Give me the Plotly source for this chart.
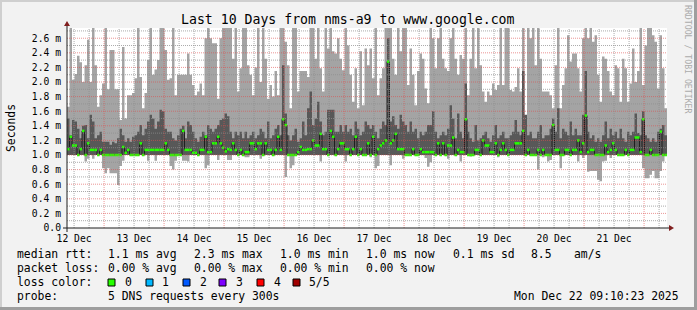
import plotly.graph_objects as go
from datetime import datetime, timedelta

# ---------------- data (milliseconds, hourly steps) ----------------
START = datetime(2025, 12, 12, 9, 10, 23)
END_LABEL = "Mon Dec 22 09:10:23 2025"
HOURS = 240
Y_TOP = 2.74

max_rtt = [
    1.66, 2.8, 2.03, 2.11, 2.36, 2.27, 2.0, 2.23, 2.58, 2.0, 2.8, 2.23, 1.66, 1.82, 1.98, 2.8, 1.9, 2.44, 2.44, 1.9, 1.9, 1.48, 2.48, 1.5,
    1.82, 1.82, 1.85, 2.05, 2.8, 2.07, 1.64, 1.85, 2.3, 2.8, 2.1, 2.17, 2.3, 2.8, 2.8, 2.44, 2.03, 2.05, 2.8, 1.82, 2.1, 2.1, 2.1, 2.1,
    2.39, 2.1, 1.96, 1.82, 1.87, 1.98, 1.82, 2.6, 2.8, 2.6, 2.53, 2.53, 1.77, 2.6, 2.8, 2.8, 2.8, 2.8, 2.32, 2.8, 1.87, 2.19, 2.8, 2.8,
    2.23, 2.1, 1.82, 2.2, 2.8, 2.0, 2.8, 2.32, 1.77, 1.96, 1.8, 2.15, 1.82, 2.8, 2.8, 2.55, 2.23, 1.64, 2.8, 2.8, 1.87, 2.15, 2.15, 2.15,
    2.07, 2.8, 2.8, 2.32, 2.8, 2.19, 1.87, 2.8, 2.46, 2.8, 2.42, 2.39, 2.6, 2.32, 2.16, 2.8, 2.5, 2.1, 1.73, 2.19, 1.64, 2.42, 1.68, 2.46,
    2.23, 2.46, 2.05, 2.8, 1.82, 2.05, 2.19, 2.8, 2.8, 2.8, 2.32, 2.1, 2.8, 2.42, 2.8, 2.8, 1.96, 2.46, 2.1, 1.68, 2.15, 2.39, 2.32, 1.91,
    1.71, 2.8, 2.6, 2.19, 2.6, 2.8, 2.32, 2.19, 2.15, 2.6, 2.8, 2.32, 2.1, 2.37, 2.32, 2.8, 1.82, 2.32, 2.8, 2.19, 2.8, 2.23, 1.87, 1.73,
    1.87, 1.82, 1.98, 1.89, 1.96, 2.8, 1.96, 2.8, 2.8, 1.89, 1.87, 1.93, 2.19, 1.87, 2.8, 1.5, 2.8, 2.6, 2.8, 2.23, 2.8, 2.32, 1.87, 1.87,
    1.87, 1.82, 1.64, 2.23, 2.8, 1.64, 1.96, 2.19, 2.64, 2.28, 2.39, 2.39, 2.19, 1.87, 2.6, 2.8, 2.6, 2.8, 2.55, 2.64, 2.1, 1.73, 2.35, 2.32,
    2.15, 1.87, 1.82, 2.23, 2.19, 1.73, 2.32, 2.19, 1.73, 1.98, 2.46, 2.0, 2.15, 2.8, 1.96, 2.5, 2.8, 2.8, 2.64, 2.55, 1.91, 2.64, 2.19, 1.64,
]

upper_rtt = [
    1.5, 1.27, 1.48, 1.46, 1.36, 1.23, 1.4, 1.41, 1.23, 1.55, 1.46, 1.23, 1.27, 1.32, 1.18, 1.18, 1.18, 1.14, 1.18, 1.16, 1.23, 1.36, 1.27, 1.18,
    1.23, 1.18, 1.25, 1.27, 1.32, 1.41, 1.27, 1.36, 1.46, 1.55, 1.5, 1.36, 1.46, 1.62, 1.6, 1.36, 1.32, 1.32, 1.23, 1.2, 1.27, 1.36, 1.4, 1.23,
    1.46, 1.41, 1.32, 1.23, 1.18, 1.25, 1.32, 1.27, 1.41, 1.36, 1.32, 1.36, 1.41, 1.48, 1.5, 1.57, 1.53, 1.32, 1.23, 1.32, 1.27, 1.32, 1.23, 1.32,
    1.23, 1.27, 1.32, 1.23, 1.27, 1.36, 1.32, 1.23, 1.46, 1.23, 1.27, 1.36, 1.41, 1.27, 2.23, 1.57, 1.27, 1.2, 1.27, 1.36, 1.18, 1.23, 1.46, 1.27,
    1.64, 1.87, 1.41, 1.5, 1.73, 1.46, 1.27, 1.32, 1.62, 1.62, 1.62, 1.32, 1.32, 1.41, 1.32, 1.41, 1.32, 1.36, 1.27, 1.46, 1.36, 1.27, 1.32, 1.46,
    1.41, 1.36, 1.41, 1.32, 1.23, 1.36, 1.46, 1.41, 2.6, 1.46, 1.53, 1.41, 1.36, 1.55, 1.46, 1.41, 1.32, 1.46, 1.32, 1.36, 1.23, 1.32, 1.27, 1.32,
    1.41, 1.41, 1.6, 1.32, 1.23, 1.27, 1.32, 1.27, 1.36, 1.68, 1.5, 1.23, 1.57, 1.32, 1.23, 1.98, 1.32, 1.23, 1.18, 1.41, 1.2, 1.23, 1.27, 1.32,
    1.23, 1.18, 1.27, 1.41, 1.23, 1.27, 1.32, 1.23, 1.23, 1.27, 1.32, 1.48, 1.32, 1.27, 2.15, 1.55, 1.27, 1.32, 1.23, 1.23, 1.32, 1.41, 1.23, 1.27,
    1.27, 1.36, 1.5, 1.32, 1.64, 1.23, 1.36, 1.32, 1.27, 1.46, 1.27, 1.36, 1.27, 1.27, 1.55, 2.15, 1.32, 1.23, 1.27, 1.18, 1.23, 1.18, 1.27, 1.46,
    1.23, 1.36, 1.27, 1.32, 1.23, 1.36, 1.23, 1.18, 1.32, 1.27, 1.32, 1.57, 1.3, 1.27, 1.6, 1.27, 1.23, 1.18, 1.23, 1.18, 1.32, 1.36, 1.41, 1.27,
]

lower_rtt = [
    1.0, 1.0, 1.0, 1.0, 1.0, 1.0, 1.0, 1.0, 1.0, 1.0, 1.0, 1.0, 1.0, 1.0, 1.0, 1.0, 1.0, 1.0, 1.0, 1.0, 1.0, 1.0, 1.0, 1.0,
    1.0, 1.0, 1.0, 1.0, 1.0, 1.0, 1.0, 1.0, 1.0, 1.0, 1.0, 1.0, 1.0, 1.0, 1.0, 1.0, 1.0, 1.0, 1.0, 1.0, 1.0, 1.0, 1.0, 1.0,
    1.0, 1.0, 1.0, 1.0, 1.0, 1.0, 1.0, 1.0, 1.0, 1.0, 1.0, 1.0, 1.0, 1.0, 1.0, 1.0, 1.0, 1.0, 1.0, 1.0, 1.0, 1.0, 1.0, 1.0,
    1.0, 1.0, 1.0, 1.0, 1.0, 1.0, 1.0, 1.0, 1.0, 1.0, 1.0, 1.0, 1.0, 1.0, 1.0, 1.0, 1.0, 1.0, 1.0, 1.0, 1.0, 1.0, 1.0, 1.0,
    1.0, 1.0, 1.0, 1.0, 1.0, 1.0, 1.0, 1.0, 1.0, 1.0, 1.0, 1.0, 1.0, 1.0, 1.0, 1.0, 1.0, 1.0, 1.0, 1.0, 1.0, 1.0, 1.0, 1.0,
    1.0, 1.0, 1.0, 1.0, 1.0, 1.0, 1.0, 1.0, 1.0, 1.0, 1.0, 1.0, 1.0, 1.0, 1.0, 1.0, 1.0, 1.0, 1.0, 1.0, 1.0, 1.0, 1.0, 1.0,
    1.0, 1.0, 1.0, 1.0, 1.0, 1.0, 1.0, 1.0, 1.0, 1.0, 1.0, 1.0, 1.0, 1.0, 1.0, 1.0, 1.0, 1.0, 1.0, 1.0, 1.0, 1.0, 1.0, 1.0,
    1.0, 1.0, 1.0, 1.0, 1.0, 1.0, 1.0, 1.0, 1.0, 1.0, 1.0, 1.0, 1.0, 1.0, 1.0, 1.0, 1.0, 1.0, 1.0, 1.0, 1.0, 1.0, 1.0, 1.0,
    1.0, 1.0, 1.0, 1.0, 1.0, 1.0, 1.0, 1.0, 1.0, 1.0, 1.0, 1.0, 1.0, 1.0, 1.0, 1.0, 1.0, 1.0, 1.0, 1.0, 1.0, 1.0, 1.0, 1.0,
    1.0, 1.0, 1.0, 1.0, 1.0, 1.0, 1.0, 1.0, 1.0, 1.0, 1.0, 1.0, 1.0, 1.0, 1.0, 1.0, 1.0, 1.0, 1.0, 1.0, 1.0, 1.0, 1.0, 1.0,
]

min_rtt = [
    1.0, 1.0, 1.0, 1.0, 1.0, 1.0, 1.0, 0.91, 0.95, 1.0, 0.95, 1.0, 1.0, 1.0, 0.82, 0.75, 0.82, 0.75, 0.75, 0.75, 0.59, 0.85, 0.92, 1.0,
    1.0, 1.0, 1.0, 1.0, 1.0, 1.0, 1.0, 1.0, 0.92, 1.0, 1.0, 0.92, 1.0, 1.0, 1.0, 1.0, 1.0, 0.85, 0.8, 0.92, 1.0, 1.0, 0.92, 0.92,
    0.91, 1.0, 1.0, 1.0, 1.0, 1.0, 1.0, 0.82, 0.86, 1.0, 1.0, 1.0, 0.93, 1.0, 1.0, 1.0, 0.93, 0.93, 1.0, 1.0, 1.0, 1.0, 1.0, 0.97,
    0.97, 1.0, 1.0, 1.0, 1.0, 0.95, 1.0, 1.0, 1.0, 1.0, 1.0, 1.0, 1.0, 1.0, 1.0, 0.7, 1.0, 0.82, 0.86, 1.0, 1.0, 1.0, 1.0, 1.0,
    1.0, 1.0, 1.0, 1.0, 1.0, 0.91, 1.0, 1.0, 1.0, 1.0, 1.0, 1.0, 1.0, 1.0, 1.0, 0.91, 1.0, 1.0, 1.0, 1.0, 1.0, 1.0, 1.0, 1.0,
    1.0, 0.97, 1.0, 0.82, 0.85, 1.0, 1.0, 1.0, 1.0, 0.86, 1.0, 1.0, 1.0, 1.0, 0.95, 1.0, 1.0, 1.0, 1.0, 1.0, 1.0, 1.0, 1.0, 0.96,
    0.84, 0.9, 1.0, 1.0, 1.0, 1.0, 1.0, 1.0, 0.95, 1.0, 1.0, 1.0, 1.0, 0.91, 1.0, 1.0, 1.0, 0.98, 1.0, 1.0, 1.0, 1.0, 1.0, 1.0,
    1.0, 1.0, 1.0, 1.0, 0.97, 1.0, 1.0, 1.0, 1.0, 1.0, 1.0, 1.0, 1.0, 1.0, 1.0, 1.0, 1.0, 1.0, 1.0, 1.0, 0.8, 1.0, 0.97, 1.0,
    0.91, 0.93, 1.0, 1.0, 1.0, 0.82, 1.0, 1.0, 1.0, 1.0, 1.0, 1.0, 0.91, 1.0, 0.96, 1.0, 0.77, 0.78, 0.78, 0.78, 0.66, 0.64, 0.91, 0.92,
    1.0, 0.96, 1.0, 1.0, 1.0, 1.0, 1.0, 1.0, 1.0, 1.0, 1.0, 1.0, 1.0, 1.0, 0.82, 0.68, 0.68, 0.73, 0.78, 0.68, 0.68, 0.78, 0.91, 1.0,
]

median_rtt = [
    1.08, 1.25, 1.13, 1.13, 1.0, 1.08, 1.33, 1.0, 1.16, 1.07, 1.07, 1.07, 1.0, 1.07, 1.0, 1.0, 1.0, 1.0, 1.0, 1.0, 1.0, 1.0, 1.11, 1.03,
    1.07, 1.0, 1.0, 1.0, 1.0, 1.16, 1.0, 1.07, 1.07, 1.07, 1.07, 1.07, 1.07, 1.07, 1.07, 1.16, 1.07, 1.0, 1.0, 1.0, 1.0, 1.0, 1.33, 1.07,
    1.07, 1.07, 1.03, 1.03, 1.0, 1.07, 1.07, 1.25, 1.04, 1.04, 1.16, 1.16, 1.25, 1.16, 1.1, 1.05, 1.08, 1.07, 1.16, 1.07, 1.0, 1.07, 1.0, 1.04,
    1.04, 1.16, 1.16, 1.08, 1.16, 1.16, 1.0, 1.16, 1.07, 1.07, 1.0, 1.07, 1.25, 1.07, 1.49, 1.41, 1.0, 1.0, 1.0, 1.0, 1.04, 1.11, 1.07, 1.07,
    1.08, 1.08, 1.2, 1.13, 1.13, 1.29, 1.08, 1.08, 1.0, 1.33, 1.25, 1.0, 1.08, 1.16, 1.16, 1.08, 1.08, 1.0, 1.08, 1.25, 1.0, 1.08, 1.0, 1.0,
    1.16, 1.0, 1.25, 1.0, 1.08, 1.13, 1.16, 1.2, 2.28, 1.16, 1.2, 1.29, 1.08, 1.08, 1.08, 1.0, 1.0, 1.0, 1.08, 1.0, 1.0, 1.08, 1.04, 1.04,
    1.04, 1.04, 1.04, 1.0, 1.16, 1.0, 1.16, 1.0, 1.13, 1.13, 1.24, 1.0, 1.07, 1.04, 1.04, 1.49, 1.0, 1.0, 1.0, 1.07, 1.07, 1.0, 1.2, 1.13,
    1.13, 1.04, 1.04, 1.16, 1.0, 1.07, 1.16, 1.07, 1.0, 1.07, 1.07, 1.16, 1.16, 1.16, 1.33, 1.0, 1.07, 1.0, 1.0, 1.0, 1.07, 1.0, 1.07, 1.0,
    1.0, 1.0, 1.41, 1.07, 1.07, 1.0, 1.0, 1.07, 1.07, 1.0, 1.07, 1.07, 1.2, 1.04, 1.16, 1.54, 1.04, 1.07, 1.07, 1.0, 1.0, 1.0, 1.0, 1.13,
    1.04, 1.07, 1.16, 1.07, 1.0, 1.0, 1.0, 1.07, 1.0, 1.07, 1.07, 1.24, 1.24, 1.04, 1.49, 1.0, 1.0, 1.07, 1.0, 1.0, 1.0, 1.32, 1.0, 1.0,
]

y_tick_values = [0.0, 0.2, 0.4, 0.6, 0.8, 1.0, 1.2, 1.4, 1.6, 1.8, 2.0, 2.2, 2.4, 2.6]
y_tick_labels = ["0.0", "0.2 m", "0.4 m", "0.6 m", "0.8 m", "1.0 m", "1.2 m", "1.4 m",
                 "1.6 m", "1.8 m", "2.0 m", "2.2 m", "2.4 m", "2.6 m"]

loss_labels = ["0", "1", "2", "3", "4", "5/5"]
loss_colors = ["#26ff00", "#00b8ff", "#0059ff", "#7e00ff", "#ff0000", "#a10000"]

legend_rows = [
    [("median rtt:", 16), ("1.1 ms avg", 107), ("2.3 ms max", 193), ("1.0 ms min", 279),
     ("1.0 ms now", 365), ("0.1 ms sd", 452), ("8.5", 530), ("am/s", 573)],
    [("packet loss:", 16), ("0.00 % avg", 107), ("0.00 % max", 193), ("0.00 % min", 279),
     ("0.00 % now", 365)],
    [("loss color:", 16)],
    [("probe:", 16), ("5 DNS requests every 300s", 107)],
]

# ---------------- geometry ----------------
W, H = 697, 310
PL, PR, PT, PB = 67, 667, 28, 228          # plot box in pixels
MONO = "DejaVu Sans Mono"


def px(xp):
    return (xp - PL) / (PR - PL)


def py(yp):
    return (PB - yp) / (PB - PT)


x = list(range(HOURS + 1))


def ext(a):
    return list(a) + [a[-1]]


fig = go.Figure()
common = dict(mode="lines", hoverinfo="skip", showlegend=False)
fig.add_trace(go.Scatter(x=x, y=ext(min_rtt), line=dict(width=0, shape="hv"), **common))
fig.add_trace(go.Scatter(x=x, y=ext(max_rtt), line=dict(width=0, shape="hv"),
                         fill="tonexty", fillcolor="#a4a4a4", **common))
fig.add_trace(go.Scatter(x=x, y=ext(lower_rtt), line=dict(width=0, shape="hv"), **common))
fig.add_trace(go.Scatter(x=x, y=ext(upper_rtt), line=dict(width=0, shape="hv"),
                         fill="tonexty", fillcolor="#585858", **common))
fig.add_trace(go.Scatter(x=x, y=ext(median_rtt), line=dict(width=1, shape="hv", color="#202020"), **common))
gx, gy = [], []
for i, m in enumerate(median_rtt):
    gx += [i, i + 1, None]
    gy += [m, m, None]
fig.add_trace(go.Scatter(x=gx, y=gy, line=dict(width=2.5, color=loss_colors[0]), **common))

shapes = []
GRID = "rgba(143,143,143,0.75)"
MGRID = "rgba(222,79,79,0.6)"
DOT = "1px,1px"

# horizontal grid (0.1 minor, 0.2 major)
for k in range(1, 28):
    v = k / 10
    shapes.append(dict(type="line", xref="x", yref="y", x0=0, x1=HOURS, y0=v, y1=v, layer="above",
                       line=dict(color=MGRID if k % 2 == 0 else GRID, width=1, dash=DOT)))

# vertical grid (6 h minor, midnight major)
midnight0 = (datetime(2025, 12, 13) - START).total_seconds() / 3600
v = midnight0 % 6
while v < HOURS:
    major = abs(((v - midnight0) / 24) - round((v - midnight0) / 24)) < 1e-6
    shapes.append(dict(type="line", xref="x", yref="y", x0=v, x1=v, y0=0, y1=Y_TOP, layer="above",
                       line=dict(color=MGRID if major else GRID, width=1, dash=DOT)))
    v += 6

# axes with arrows
AXIS = "#1f1f1f"
ARROW = "#801f1f"
shapes.append(dict(type="line", xref="paper", yref="paper", x0=px(PL - 4), x1=px(PR + 4),
                   y0=py(PB), y1=py(PB), line=dict(color=AXIS, width=1), layer="above"))
shapes.append(dict(type="line", xref="paper", yref="paper", x0=px(PL), x1=px(PL),
                   y0=py(PB + 4), y1=py(PT - 4), line=dict(color=AXIS, width=1), layer="above"))
shapes.append(dict(type="path", xref="paper", yref="paper", layer="above",
                   path=f"M {px(PR+2)} {py(PB-3)} L {px(PR+2)} {py(PB+3)} L {px(PR+7)} {py(PB)} Z",
                   fillcolor=ARROW, line=dict(width=0)))
shapes.append(dict(type="path", xref="paper", yref="paper", layer="above",
                   path=f"M {px(PL-3)} {py(PT-2)} L {px(PL+3)} {py(PT-2)} L {px(PL)} {py(PT-7)} Z",
                   fillcolor=ARROW, line=dict(width=0)))

# 3D frame of the image
shapes.append(dict(type="line", xref="paper", yref="paper", x0=px(0), x1=px(W), y0=py(1), y1=py(1),
                   line=dict(color="#cfcfcf", width=2), layer="above"))
shapes.append(dict(type="line", xref="paper", yref="paper", x0=px(1), x1=px(1), y0=py(0), y1=py(H),
                   line=dict(color="#cfcfcf", width=2), layer="above"))
shapes.append(dict(type="line", xref="paper", yref="paper", x0=px(0), x1=px(W), y0=py(H - 1.5), y1=py(H - 1.5),
                   line=dict(color="#9e9e9e", width=3), layer="above"))
shapes.append(dict(type="line", xref="paper", yref="paper", x0=px(W - 1.5), x1=px(W - 1.5), y0=py(0), y1=py(H),
                   line=dict(color="#9e9e9e", width=3), layer="above"))

# loss colour boxes
box_x = [108, 146, 183, 219, 257, 293]
label_x = [124, 161, 199, 235, 273, 308]
for bx, col in zip(box_x, loss_colors):
    shapes.append(dict(type="rect", xref="paper", yref="paper", x0=px(bx), x1=px(bx + 7),
                       y0=py(286), y1=py(279), fillcolor=col, line=dict(color="#000000", width=1),
                       layer="above"))

annotations = []


def text(xp, yp, s, size=11.4, anchor="left", color="#000000", angle=0):
    annotations.append(dict(x=px(xp), y=py(yp), xref="paper", yref="paper", text=s, showarrow=False,
                            xanchor=anchor, yanchor="middle", borderpad=0, textangle=angle,
                            font=dict(family=MONO, size=size, color=color)))


text(348, 19.5, "Last 10 Days from nms-a9 to www.google.com", size=13.2, anchor="center")
text(11, 128, "Seconds", size=11.4, anchor="center", angle=-90)
text(688, 59, "RRDTOOL / TOBI OETIKER", size=8.2, anchor="center", color="#ababab", angle=90)

row_y = [254, 268, 282, 296]
for ry, row in zip(row_y, legend_rows):
    for s, lx in row:
        text(lx, ry, s)
for lx, lab in zip(label_x, loss_labels):
    text(lx, row_y[2], lab)
text(680, row_y[3], END_LABEL, anchor="right")

# x tick labels at noon of each day
noon0 = (datetime(2025, 12, 12, 12) - START).total_seconds() / 3600
x_tick_values, x_tick_labels = [], []
t = noon0
while t < HOURS:
    d = START + timedelta(hours=t)
    x_tick_values.append(t)
    x_tick_labels.append(f"{d.day} {d.strftime('%b')}")
    t += 24

fig.update_layout(
    width=W, height=H,
    margin=dict(l=PL, r=W - PR, t=PT, b=H - PB, pad=0),
    paper_bgcolor="#f2f2f2", plot_bgcolor="#ffffff",
    showlegend=False,
    xaxis=dict(range=[0, HOURS], tickvals=x_tick_values, ticktext=x_tick_labels,
               showgrid=False, zeroline=False, showline=False, ticks="",
               ticklabelstandoff=3, tickfont=dict(family=MONO, size=9.7, color="#000000"),
               fixedrange=True),
    yaxis=dict(range=[0, Y_TOP], tickvals=y_tick_values, ticktext=y_tick_labels,
               showgrid=False, zeroline=False, showline=False, ticks="",
               ticklabelstandoff=5, tickfont=dict(family=MONO, size=9.7, color="#000000"),
               fixedrange=True),
    shapes=shapes,
    annotations=annotations,
)

fig.write_html("out.html")
